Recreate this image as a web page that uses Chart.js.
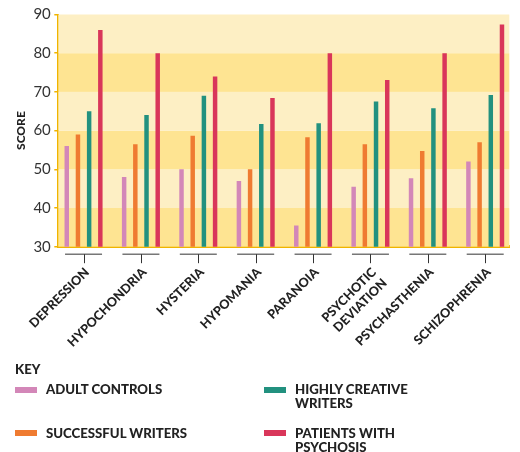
<!DOCTYPE html>
<html>
<head>
<meta charset="utf-8">
<script src="https://cdn.jsdelivr.net/npm/chart.js@4.4.1/dist/chart.umd.min.js"></script>
<style>
  html, body { margin: 0; padding: 0; background: #fff; }
  #wrap { position: relative; width: 520px; height: 452px; font-family: Lato, "Open Sans", sans-serif; }
  #chart { position: absolute; left: 0; top: 0; }
  #key { position: absolute; left: 15px; top: 362px; color: #222; font-weight: 900; font-size: 13.2px; line-height: 14px; }
  #key .title { margin-bottom: 6px; }
  #key .items { display: grid; grid-auto-flow: column; grid-template-rows: 43.7px 43.7px; grid-template-columns: 249px 230px; }
  #key .item { position: relative; padding-left: 31px; }
  #key .sw { position: absolute; left: 0; top: 4.7px; width: 22px; height: 6px; }
</style>
</head>
<body>
<div id="wrap">
  <canvas id="chart" width="520" height="452"></canvas>
  <div id="key"><div class="title">KEY</div><div class="items" id="keyItems"></div></div>
</div>
<script>
// MMPI scale scores by group
const categories = ['DEPRESSION', 'HYPOCHONDRIA', 'HYSTERIA', 'HYPOMANIA', 'PARANOIA', ['PSYCHOTIC', 'DEVIATION'], 'PSYCHASTHENIA', 'SCHIZOPHRENIA'];
const adultControls         = [56, 48, 50, 47, 35.5, 45.5, 47.7, 52];
const successfulWriters     = [59, 56.5, 58.7, 50, 58.3, 56.5, 54.7, 57];
const highlyCreativeWriters = [65, 64, 69, 61.7, 61.9, 67.5, 65.8, 69.2];
const patientsWithPsychosis = [86, 80, 74, 68.4, 80, 73.1, 80, 87.4];
const scoreTicks = [30, 40, 50, 60, 70, 80, 90];

const seriesNames  = ['ADULT CONTROLS', 'SUCCESSFUL WRITERS', ['HIGHLY CREATIVE', 'WRITERS'], ['PATIENTS WITH', 'PSYCHOSIS']];
const seriesValues = [adultControls, successfulWriters, highlyCreativeWriters, patientsWithPsychosis];
const seriesColors = ['#d387b8', '#ef7b31', '#22917f', '#d9365a'];

const GOLD = '#f0b400';
const BAND_DARK = '#fee492';
const BAND_LIGHT = '#fdefc4';

// alternating horizontal bands behind the bars
const bandsPlugin = {
  id: 'bands',
  beforeDatasetsDraw(chart) {
    const { ctx, chartArea, scales: { y } } = chart;
    ctx.save();
    for (let i = 0; i < scoreTicks.length - 1; i++) {
      const top = y.getPixelForValue(scoreTicks[i + 1]);
      const bottom = y.getPixelForValue(scoreTicks[i]);
      ctx.fillStyle = i % 2 === 0 ? BAND_DARK : BAND_LIGHT;
      ctx.fillRect(chartArea.left, top, chartArea.right - chartArea.left, bottom - top);
    }
    ctx.restore();
  }
};

// bracket under each group of bars
const bracketPlugin = {
  id: 'brackets',
  afterDraw(chart) {
    const { ctx, chartArea, scales: { x } } = chart;
    const y0 = chartArea.bottom + 7.5;
    ctx.save();
    x.ticks.forEach(t => {
      const px = x.getPixelForValue(t.value);
      ctx.strokeStyle = '#777';
      ctx.lineWidth = 1.5;
      ctx.beginPath();
      ctx.moveTo(px - 18.5, y0);
      ctx.lineTo(px + 18.5, y0);
      ctx.stroke();
      ctx.strokeStyle = '#333';
      ctx.lineWidth = 1;
      ctx.beginPath();
      ctx.moveTo(Math.round(px) + 0.5, y0);
      ctx.lineTo(Math.round(px) + 0.5, y0 + 9);
      ctx.stroke();
    });
    ctx.restore();
  }
};

const datasets = seriesValues.map((vals, s) => ({
  label: Array.isArray(seriesNames[s]) ? seriesNames[s].join(' ') : seriesNames[s],
  data: vals.map((v, i) => ({ x: i, y: v })),
  backgroundColor: seriesColors[s],
  borderWidth: 0,
  barPercentage: 0.4,
  categoryPercentage: 0.78
}));

new Chart(document.getElementById('chart'), {
  type: 'bar',
  data: { datasets },
  options: {
    responsive: false,
    animation: false,
    layout: { padding: { top: 14.5, right: 10.7, left: 0, bottom: 0 } },
    plugins: { legend: { display: false }, tooltip: { enabled: false } },
    scales: {
      x: {
        type: 'linear',
        offset: false,
        min: -0.44,
        max: 7.42,
        afterBuildTicks: s => { s.ticks = s.ticks.filter(t => Number.isInteger(t.value) && t.value >= 0 && t.value < categories.length); },
        afterFit: s => { s.height = 205.3; },
        border: { display: true, color: GOLD, width: 3 },
        grid: { display: false },
        ticks: {
          stepSize: 1,
          autoSkip: false,
          maxRotation: 45,
          minRotation: 45,
          padding: 10,
          labelOffset: 3.5,
          color: '#222',
          font: { family: 'Lato', weight: '900', size: 12.7 },
          callback: v => categories[v]
        }
      },
      y: {
        min: 30,
        max: 90,
        afterFit: s => { s.width = 58.3; },
        border: { display: true, color: GOLD, width: 2 },
        grid: { drawOnChartArea: false, color: GOLD, tickLength: 4, lineWidth: 1.5 },
        ticks: {
          stepSize: 10,
          padding: 3.5,
          color: '#333',
          font: { family: 'Lato', size: 15 }
        },
        title: {
          display: true,
          text: 'SCORE',
          color: '#222',
          padding: { top: 14, bottom: 0 },
          font: { family: 'Lato', weight: '900', size: 12 }
        }
      }
    }
  },
  plugins: [bandsPlugin, bracketPlugin]
});

// key below the chart, built from the same series arrays
const keyItems = document.getElementById('keyItems');
seriesNames.forEach((name, s) => {
  const item = document.createElement('div');
  item.className = 'item';
  const sw = document.createElement('span');
  sw.className = 'sw';
  sw.style.background = seriesColors[s];
  item.appendChild(sw);
  const lines = Array.isArray(name) ? name : [name];
  lines.forEach((ln, k) => {
    if (k) item.appendChild(document.createElement('br'));
    item.appendChild(document.createTextNode(ln));
  });
  keyItems.appendChild(item);
});
</script>
</body>
</html>
